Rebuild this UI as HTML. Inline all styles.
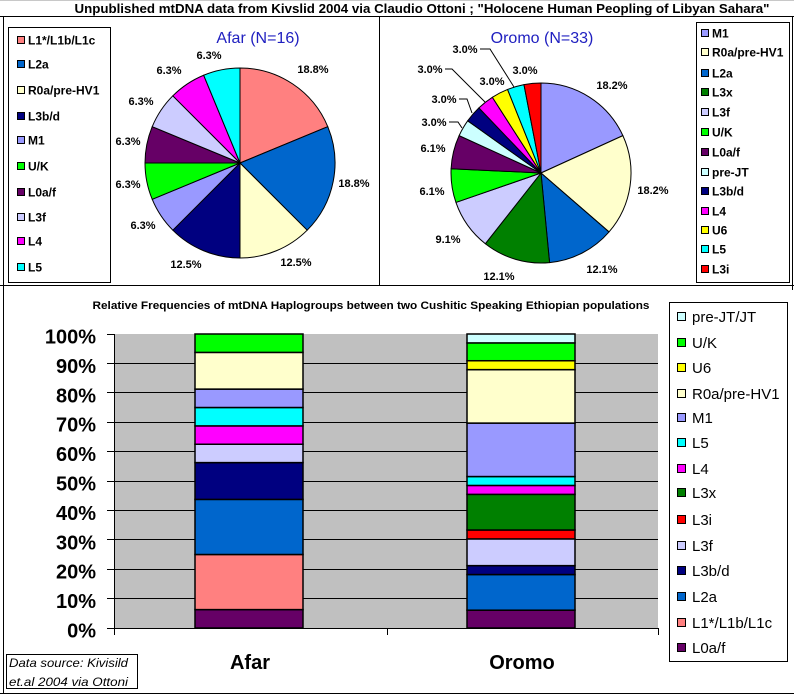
<!DOCTYPE html>
<html><head><meta charset="utf-8"><style>
html,body{margin:0;padding:0;background:#fff;}
svg{display:block;}
</style></head><body>
<svg width="794" height="697" viewBox="0 0 794 697" xmlns="http://www.w3.org/2000/svg" font-family="Liberation Sans, Arial, sans-serif">
<rect x="0" y="0" width="794" height="697" fill="#fff"/>
<!-- frame -->
<line x1="0" y1="0.5" x2="794" y2="0.5" stroke="#c8c8c8" stroke-width="1"/>
<line x1="0" y1="16.5" x2="794" y2="16.5" stroke="#000" stroke-width="1"/>
<line x1="3.5" y1="17" x2="3.5" y2="693" stroke="#000" stroke-width="1"/>
<line x1="379.5" y1="17" x2="379.5" y2="285" stroke="#000" stroke-width="1"/>
<line x1="792.5" y1="17" x2="792.5" y2="290" stroke="#000" stroke-width="1"/>
<line x1="0" y1="285.5" x2="794" y2="285.5" stroke="#000" stroke-width="1"/>
<line x1="0" y1="693.5" x2="794" y2="693.5" stroke="#000" stroke-width="1"/>

<text x="422" y="13" font-size="13" font-weight="bold" text-anchor="middle" textLength="695" lengthAdjust="spacingAndGlyphs">Unpublished mtDNA data from Kivslid 2004 via Claudio Ottoni ; "Holocene Human Peopling of Libyan Sahara"</text>

<!-- Afar legend -->
<rect x="8.5" y="27.5" width="102" height="255" fill="#fff" stroke="#000"/>
<g font-size="12" font-weight="bold" stroke="#000" stroke-width="1">
<rect x="17.5" y="36.5" width="7" height="7" fill="#FF8080"/>
<rect x="17.5" y="60.5" width="7" height="7" fill="#0066CC"/>
<rect x="17.5" y="86.5" width="7" height="7" fill="#FFFFCC"/>
<rect x="17.5" y="112.5" width="7" height="7" fill="#000080"/>
<rect x="17.5" y="136.5" width="7" height="7" fill="#9999FF"/>
<rect x="17.5" y="162.5" width="7" height="7" fill="#00FF00"/>
<rect x="17.5" y="188.5" width="7" height="7" fill="#660066"/>
<rect x="17.5" y="213.5" width="7" height="7" fill="#CCCCFF"/>
<rect x="17.5" y="237.5" width="7" height="7" fill="#FF00FF"/>
<rect x="17.5" y="263.5" width="7" height="7" fill="#00FFFF"/>
</g>
<g font-size="12" font-weight="bold" fill="#000">
<text x="28" y="44.5">L1*/L1b/L1c</text>
<text x="28" y="68.5">L2a</text>
<text x="28" y="94.5">R0a/pre-HV1</text>
<text x="28" y="120.5">L3b/d</text>
<text x="28" y="144.5">M1</text>
<text x="28" y="170.5">U/K</text>
<text x="28" y="196.5">L0a/f</text>
<text x="28" y="221.5">L3f</text>
<text x="28" y="245.5">L4</text>
<text x="28" y="271.5">L5</text>
</g>

<!-- Afar pie -->
<text x="258" y="43" font-size="16" fill="#2020C0" text-anchor="middle">Afar (N=16)</text>
<g stroke="#000" stroke-width="1" stroke-linejoin="round">
<path d="M240,163 L240,68 A95,95 0 0 1 327.77,126.65 Z" fill="#FF8080"/>
<path d="M240,163 L327.77,126.65 A95,95 0 0 1 307.18,230.18 Z" fill="#0066CC"/>
<path d="M240,163 L307.18,230.18 A95,95 0 0 1 240,258 Z" fill="#FFFFCC"/>
<path d="M240,163 L240,258 A95,95 0 0 1 172.82,230.18 Z" fill="#000080"/>
<path d="M240,163 L172.82,230.18 A95,95 0 0 1 152.23,199.35 Z" fill="#9999FF"/>
<path d="M240,163 L152.23,199.35 A95,95 0 0 1 145,163 Z" fill="#00FF00"/>
<path d="M240,163 L145,163 A95,95 0 0 1 152.23,126.65 Z" fill="#660066"/>
<path d="M240,163 L152.23,126.65 A95,95 0 0 1 172.82,95.82 Z" fill="#CCCCFF"/>
<path d="M240,163 L172.82,95.82 A95,95 0 0 1 203.65,75.23 Z" fill="#FF00FF"/>
<path d="M240,163 L203.65,75.23 A95,95 0 0 1 240,68 Z" fill="#00FFFF"/>
</g>
<g font-size="11" font-weight="bold" text-anchor="middle">
<text x="313" y="73">18.8%</text>
<text x="354" y="187">18.8%</text>
<text x="296" y="266">12.5%</text>
<text x="186" y="268">12.5%</text>
<text x="143" y="229">6.3%</text>
<text x="128" y="188">6.3%</text>
<text x="128" y="145">6.3%</text>
<text x="141" y="105">6.3%</text>
<text x="169" y="74">6.3%</text>
<text x="209" y="59">6.3%</text>
</g>

<!-- Oromo pie -->
<text x="542" y="43" font-size="16" fill="#2020C0" text-anchor="middle">Oromo (N=33)</text>
<g stroke="#000" stroke-width="1" stroke-linejoin="round">
<path d="M541,173 L541,83 A90,90 0 0 1 622.87,135.61 Z" fill="#9999FF"/>
<path d="M541,173 L622.87,135.61 A90,90 0 0 1 609.02,231.94 Z" fill="#FFFFCC"/>
<path d="M541,173 L609.02,231.94 A90,90 0 0 1 549.56,262.59 Z" fill="#0066CC"/>
<path d="M541,173 L549.56,262.59 A90,90 0 0 1 485.37,243.74 Z" fill="#008000"/>
<path d="M541,173 L485.37,243.74 A90,90 0 0 1 455.95,202.44 Z" fill="#CCCCFF"/>
<path d="M541,173 L455.95,202.44 A90,90 0 0 1 451.10,168.72 Z" fill="#00FF00"/>
<path d="M541,173 L451.10,168.72 A90,90 0 0 1 459.13,135.61 Z" fill="#660066"/>
<path d="M541,173 L459.13,135.61 A90,90 0 0 1 467.69,120.80 Z" fill="#CCFFFF"/>
<path d="M541,173 L467.69,120.80 A90,90 0 0 1 478.89,107.86 Z" fill="#000080"/>
<path d="M541,173 L478.89,107.86 A90,90 0 0 1 492.34,97.29 Z" fill="#FF00FF"/>
<path d="M541,173 L492.34,97.29 A90,90 0 0 1 507.55,89.45 Z" fill="#FFFF00"/>
<path d="M541,173 L507.55,89.45 A90,90 0 0 1 523.97,84.63 Z" fill="#00FFFF"/>
<path d="M541,173 L523.97,84.63 A90,90 0 0 1 541,83 Z" fill="#FF0000"/>
</g>
<g stroke="#000" stroke-width="1" fill="none">
<polyline points="449,122 458,122 462,128"/>
<polyline points="459,99 467,99 472,113"/>
<polyline points="445,69 452,69 485,102"/>
<polyline points="480,49 490,49 514,87"/>
</g>
<g font-size="11" font-weight="bold" text-anchor="middle">
<text x="612" y="89">18.2%</text>
<text x="653" y="194">18.2%</text>
<text x="602" y="273">12.1%</text>
<text x="499" y="280">12.1%</text>
<text x="448" y="243">9.1%</text>
<text x="432" y="195">6.1%</text>
<text x="433" y="152">6.1%</text>
<text x="434" y="126">3.0%</text>
<text x="444" y="103">3.0%</text>
<text x="430" y="73">3.0%</text>
<text x="492" y="85">3.0%</text>
<text x="465" y="53">3.0%</text>
<text x="525" y="74">3.0%</text>
</g>

<!-- Oromo legend -->
<rect x="696.5" y="22.5" width="93" height="260" fill="#fff" stroke="#000"/>
<g stroke="#000" stroke-width="1">
<rect x="701.5" y="29.5" width="7" height="7" fill="#9999FF"/>
<rect x="701.5" y="48.5" width="7" height="7" fill="#FFFFCC"/>
<rect x="701.5" y="69.5" width="7" height="7" fill="#0066CC"/>
<rect x="701.5" y="88.5" width="7" height="7" fill="#008000"/>
<rect x="701.5" y="108.5" width="7" height="7" fill="#CCCCFF"/>
<rect x="701.5" y="128.5" width="7" height="7" fill="#00FF00"/>
<rect x="701.5" y="148.5" width="7" height="7" fill="#660066"/>
<rect x="701.5" y="168.5" width="7" height="7" fill="#CCFFFF"/>
<rect x="701.5" y="187.5" width="7" height="7" fill="#000080"/>
<rect x="701.5" y="207.5" width="7" height="7" fill="#FF00FF"/>
<rect x="701.5" y="226.5" width="7" height="7" fill="#FFFF00"/>
<rect x="701.5" y="245.5" width="7" height="7" fill="#00FFFF"/>
<rect x="701.5" y="265.5" width="7" height="7" fill="#FF0000"/>
</g>
<g font-size="12" font-weight="bold">
<text x="712" y="37.5">M1</text>
<text x="712" y="56.5">R0a/pre-HV1</text>
<text x="712" y="77.5">L2a</text>
<text x="712" y="96.5">L3x</text>
<text x="712" y="116.5">L3f</text>
<text x="712" y="136.5">U/K</text>
<text x="712" y="156.5">L0a/f</text>
<text x="712" y="176.5">pre-JT</text>
<text x="712" y="195.5">L3b/d</text>
<text x="712" y="215.5">L4</text>
<text x="712" y="234.5">U6</text>
<text x="712" y="253.5">L5</text>
<text x="712" y="273.5">L3i</text>
</g>

<!-- Bar chart -->
<text x="371" y="309" font-size="11" font-weight="bold" text-anchor="middle" textLength="557" lengthAdjust="spacingAndGlyphs">Relative Frequencies of mtDNA Haplogroups between two Cushitic Speaking Ethiopian  populations</text>
<rect x="114" y="334" width="544" height="294" fill="#C0C0C0"/>
<g stroke="#000" stroke-width="1">
<line x1="107" y1="334.5" x2="114" y2="334.5"/>
<line x1="107" y1="363.5" x2="658" y2="363.5"/>
<line x1="107" y1="392.5" x2="658" y2="392.5"/>
<line x1="107" y1="422.5" x2="658" y2="422.5"/>
<line x1="107" y1="451.5" x2="658" y2="451.5"/>
<line x1="107" y1="481.5" x2="658" y2="481.5"/>
<line x1="107" y1="510.5" x2="658" y2="510.5"/>
<line x1="107" y1="539.5" x2="658" y2="539.5"/>
<line x1="107" y1="569.5" x2="658" y2="569.5"/>
<line x1="107" y1="598.5" x2="658" y2="598.5"/>
<line x1="107" y1="628.5" x2="658" y2="628.5"/>
<line x1="114.5" y1="334" x2="114.5" y2="635"/>
<line x1="387.5" y1="628" x2="387.5" y2="635"/>
<line x1="658.5" y1="628" x2="658.5" y2="635"/>
</g>
<!-- Afar bar -->
<g stroke="#000" stroke-width="1.5">
<rect x="195" y="609.6" width="108" height="18.4" fill="#660066"/>
<rect x="195" y="554.5" width="108" height="55.1" fill="#FF8080"/>
<rect x="195" y="499.4" width="108" height="55.1" fill="#0066CC"/>
<rect x="195" y="462.6" width="108" height="36.8" fill="#000080"/>
<rect x="195" y="444.25" width="108" height="18.35" fill="#CCCCFF"/>
<rect x="195" y="425.9" width="108" height="18.35" fill="#FF00FF"/>
<rect x="195" y="407.5" width="108" height="18.4" fill="#00FFFF"/>
<rect x="195" y="389.1" width="108" height="18.4" fill="#9999FF"/>
<rect x="195" y="352.4" width="108" height="36.7" fill="#FFFFCC"/>
<rect x="195" y="334" width="108" height="18.4" fill="#00FF00"/>
</g>
<!-- Oromo bar -->
<g stroke="#000" stroke-width="1.5">
<rect x="467" y="610.18" width="108" height="17.82" fill="#660066"/>
<rect x="467" y="574.55" width="108" height="35.63" fill="#0066CC"/>
<rect x="467" y="565.64" width="108" height="8.91" fill="#000080"/>
<rect x="467" y="538.91" width="108" height="26.73" fill="#CCCCFF"/>
<rect x="467" y="530" width="108" height="8.91" fill="#FF0000"/>
<rect x="467" y="494.36" width="108" height="35.64" fill="#008000"/>
<rect x="467" y="485.45" width="108" height="8.91" fill="#FF00FF"/>
<rect x="467" y="476.55" width="108" height="8.9" fill="#00FFFF"/>
<rect x="467" y="423.09" width="108" height="53.46" fill="#9999FF"/>
<rect x="467" y="369.64" width="108" height="53.45" fill="#FFFFCC"/>
<rect x="467" y="360.73" width="108" height="8.91" fill="#FFFF00"/>
<rect x="467" y="342.91" width="108" height="17.82" fill="#00FF00"/>
<rect x="467" y="334" width="108" height="8.91" fill="#CCFFFF"/>
</g>
<g font-size="20" font-weight="bold" text-anchor="end">
<text x="96" y="343.5">100%</text>
<text x="96" y="372.9">90%</text>
<text x="96" y="402.3">80%</text>
<text x="96" y="431.7">70%</text>
<text x="96" y="461.1">60%</text>
<text x="96" y="490.5">50%</text>
<text x="96" y="519.9">40%</text>
<text x="96" y="549.3">30%</text>
<text x="96" y="578.7">20%</text>
<text x="96" y="608.1">10%</text>
<text x="96" y="637.5">0%</text>
</g>
<g font-size="20" font-weight="bold" text-anchor="middle">
<text x="250" y="669">Afar</text>
<text x="522" y="669">Oromo</text>
</g>

<!-- Bar legend -->
<rect x="669.5" y="302.5" width="118" height="359" fill="#fff" stroke="#000"/>
<g stroke="#000" stroke-width="1">
<rect x="677.5" y="312.5" width="8" height="8" fill="#CCFFFF"/>
<rect x="677.5" y="338.5" width="8" height="8" fill="#00FF00"/>
<rect x="677.5" y="363.5" width="8" height="8" fill="#FFFF00"/>
<rect x="677.5" y="389.5" width="8" height="8" fill="#FFFFCC"/>
<rect x="677.5" y="413.5" width="8" height="8" fill="#9999FF"/>
<rect x="677.5" y="438.5" width="8" height="8" fill="#00FFFF"/>
<rect x="677.5" y="464.5" width="8" height="8" fill="#FF00FF"/>
<rect x="677.5" y="488.5" width="8" height="8" fill="#008000"/>
<rect x="677.5" y="515.5" width="8" height="8" fill="#FF0000"/>
<rect x="677.5" y="541.5" width="8" height="8" fill="#CCCCFF"/>
<rect x="677.5" y="566.5" width="8" height="8" fill="#000080"/>
<rect x="677.5" y="592.5" width="8" height="8" fill="#0066CC"/>
<rect x="677.5" y="618.5" width="8" height="8" fill="#FF8080"/>
<rect x="677.5" y="643.5" width="8" height="8" fill="#660066"/>
</g>
<g font-size="15">
<text x="692" y="322">pre-JT/JT</text>
<text x="692" y="348">U/K</text>
<text x="692" y="373">U6</text>
<text x="692" y="399">R0a/pre-HV1</text>
<text x="692" y="423">M1</text>
<text x="692" y="448">L5</text>
<text x="692" y="474">L4</text>
<text x="692" y="498">L3x</text>
<text x="692" y="525">L3i</text>
<text x="692" y="551">L3f</text>
<text x="692" y="576">L3b/d</text>
<text x="692" y="602">L2a</text>
<text x="692" y="628">L1*/L1b/L1c</text>
<text x="692" y="653">L0a/f</text>
</g>

<!-- Data source box -->
<rect x="6.5" y="654.5" width="131" height="34" fill="#fff" stroke="#000"/>
<g font-size="12" font-style="italic">
<text x="9" y="667" textLength="119" lengthAdjust="spacingAndGlyphs">Data source: Kivisild</text>
<text x="9" y="686" textLength="119" lengthAdjust="spacingAndGlyphs">et.al 2004 via Ottoni</text>
</g>
</svg>
</body></html>
